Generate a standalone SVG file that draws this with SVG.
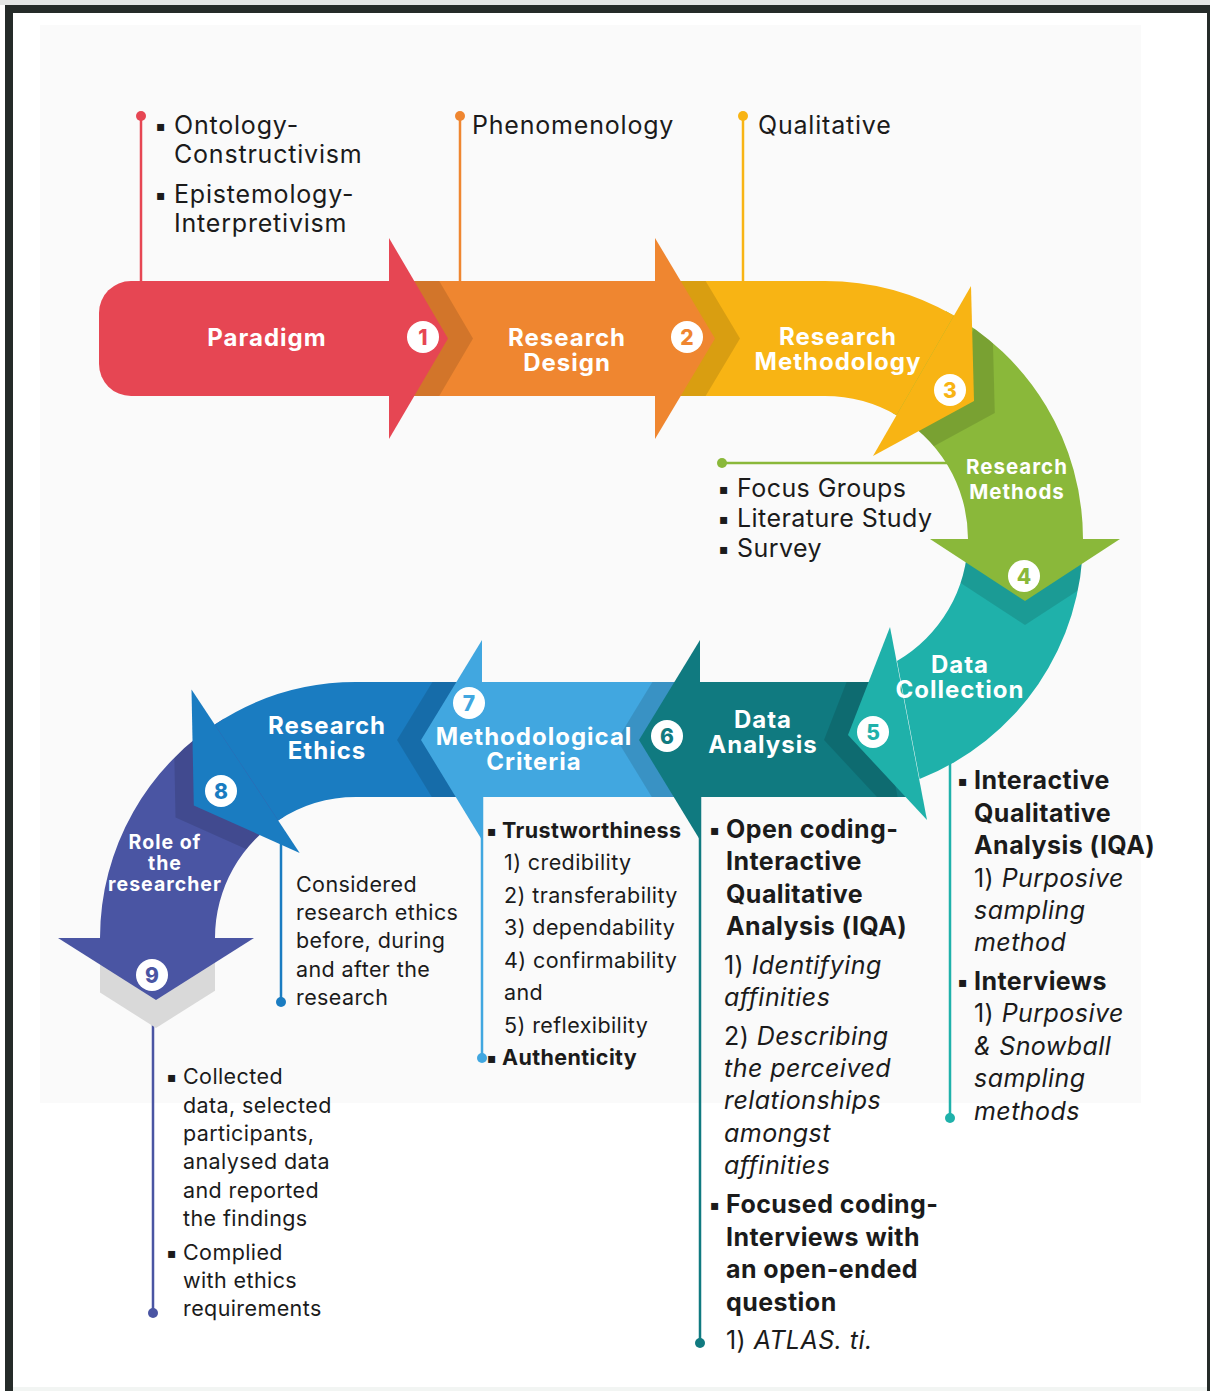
<svg xmlns="http://www.w3.org/2000/svg" xmlns:xlink="http://www.w3.org/1999/xlink" width="1210" height="1391" viewBox="0 0 1210 1391">
  <style>
    .lbl { font-family: Inter, "Open Sans", "DejaVu Sans", sans-serif; font-weight: 700; fill: #ffffff; text-anchor: middle; letter-spacing: 1px; }
    .num { font-family: Inter, "DejaVu Sans", sans-serif; font-weight: 800; font-size: 21px; text-anchor: middle; }
    .txt { font-family: Inter, "Open Sans", "DejaVu Sans", sans-serif; fill: #1b1b1b; }
    .big { font-size: 25px; letter-spacing: 0.45px; }
    .top { font-size: 25px; letter-spacing: 0.8px; }
    .small { font-size: 21.5px; letter-spacing: 0.4px; }
    .b { font-weight: 700; }
    .i { font-style: italic; }
    .bul { font-family: "DejaVu Sans", sans-serif; font-size: 14px; font-weight: 700; letter-spacing: 0; }
    .shade { fill: #000000; opacity: 0.12; }
    .ln { stroke-width: 2.5; fill: none; }
  </style>
  <defs>
    <path id="b1" d="M131,281 H395 V396 H131 A32 32 0 0 1 99,364 V313 A32 32 0 0 1 131,281 Z"/>
    <path id="b2" d="M392,281 H660 V396 H392 Z"/>
    <path id="b3" d="M658,281 H825 A258 258 0 0 1 954,315.6 L896.5,415.2 A143 143 0 0 0 825,396 H658 Z"/>
    <path id="b4" d="M946.1,311.2 A258 258 0 0 1 1083,539 L968,539 A143 143 0 0 0 892.1,412.7 Z"/>
    <path id="b5" d="M1083,539 A258 258 0 0 1 919.6,779 L897,661 A143 143 0 0 0 968,539 Z"/>
    <path id="b6" d="M697,682 H880 L910,797 H697 Z"/>
    <path id="b7" d="M479,682 H703 V797 H479 Z"/>
    <path id="b8" d="M485,682 H356 A256 256 0 0 0 214.7,724.5 L278.2,820.4 A141 141 0 0 1 356,797 H485 Z"/>
    <path id="b9" d="M224.2,718.6 A256 256 0 0 0 100,938 L215,938 A141 141 0 0 1 283.4,817.1 Z"/>
    <clipPath id="c2"><use xlink:href="#b2"/></clipPath>
    <clipPath id="c3"><use xlink:href="#b3"/></clipPath>
    <clipPath id="c4"><use xlink:href="#b4"/></clipPath>
    <clipPath id="c5"><use xlink:href="#b5"/></clipPath>
    <clipPath id="c6"><use xlink:href="#b6"/></clipPath>
    <clipPath id="c7"><use xlink:href="#b7"/></clipPath>
    <clipPath id="c8"><use xlink:href="#b8"/></clipPath>
    <clipPath id="c9"><use xlink:href="#b9"/></clipPath>
    <clipPath id="c10"><rect x="100" y="938" width="115" height="120"/></clipPath>
  </defs>

  <!-- page and frame -->
  <rect x="0" y="0" width="1210" height="1391" fill="#ffffff"/>
  <rect x="40" y="25" width="1101" height="1078" fill="#fafafa"/>
  <rect x="0" y="0" width="1210" height="5" fill="#e4e6e5"/>
  <rect x="5" y="5" width="1205" height="8" fill="#252b29"/>
  <rect x="5" y="5" width="8" height="1386" fill="#252b29"/>
  <rect x="1207" y="5" width="3" height="1386" fill="#252b29"/>
  <rect x="13" y="1387" width="1194" height="4" fill="#f2f5f3"/>

  <!-- connectors -->
  <g id="connectors">
    <line class="ln" x1="141" y1="116" x2="141" y2="282" stroke="#e64653"/>
    <circle cx="141" cy="116" r="5" fill="#e64653"/>
    <line class="ln" x1="460" y1="116" x2="460" y2="282" stroke="#ef8630"/>
    <circle cx="460" cy="116" r="5" fill="#ef8630"/>
    <line class="ln" x1="743" y1="116" x2="743" y2="282" stroke="#f8b414"/>
    <circle cx="743" cy="116" r="5" fill="#f8b414"/>
    <line class="ln" x1="722" y1="463" x2="962" y2="463" stroke="#8ab83a"/>
    <circle cx="722" cy="463" r="5" fill="#8ab83a"/>
    <line class="ln" x1="950" y1="755" x2="950" y2="1118" stroke="#1fb1aa"/>
    <circle cx="950" cy="1118" r="5" fill="#1fb1aa"/>
    <line class="ln" x1="700" y1="797" x2="700" y2="1343" stroke="#107a80"/>
    <circle cx="700" cy="1343" r="5" fill="#107a80"/>
    <line class="ln" x1="482" y1="797" x2="482" y2="1058" stroke="#41a7e0"/>
    <circle cx="482" cy="1058" r="5" fill="#41a7e0"/>
    <line class="ln" x1="281" y1="830" x2="281" y2="1002" stroke="#1a7cc1"/>
    <circle cx="281" cy="1002" r="5" fill="#1a7cc1"/>
    <line class="ln" x1="153" y1="1000" x2="153" y2="1313" stroke="#4a55a3"/>
    <circle cx="153" cy="1313" r="5" fill="#4a55a3"/>
  </g>

  <!-- arrow bodies -->
  <g id="bands">
    <use xlink:href="#b9" fill="#4a55a3"/>
    <use xlink:href="#b8" fill="#1a7cc1"/>
    <use xlink:href="#b7" fill="#41a7e0"/>
    <use xlink:href="#b6" fill="#107a80"/>
    <use xlink:href="#b5" fill="#1fb1aa"/>
    <use xlink:href="#b4" fill="#8ab83a"/>
    <use xlink:href="#b3" fill="#f8b414"/>
    <use xlink:href="#b2" fill="#ef8630"/>
    <use xlink:href="#b1" fill="#e64653"/>
  </g>

  <!-- head shadows cast on the following body -->
  <g id="shadows">
    <polygon class="shade" clip-path="url(#c2)" points="414,238 473,338.5 414,439"/>
    <polygon class="shade" clip-path="url(#c3)" points="680,238 740,338.5 680,439"/>
    <polygon class="shade" clip-path="url(#c4)" points="991.8,298.1 994.8,413 893.8,467.9"/>
    <polygon class="shade" clip-path="url(#c5)" points="930,563 1120,563 1025,625"/>
    <polygon class="shade" clip-path="url(#c6)" points="866,632 903,825 824,740"/>
    <polygon class="shade" clip-path="url(#c7)" points="678,640 678,840 617,740"/>
    <polygon class="shade" clip-path="url(#c8)" points="458,640 458,840 397,740"/>
    <polygon class="shade" clip-path="url(#c9)" points="173.2,701.6 281.4,865 175.5,817.5"/>
    <polygon fill="#d9d9d9" clip-path="url(#c10)" points="58,938 254,938 254,966 156,1028 58,966"/>
  </g>

  <!-- nodes: arrow heads, labels and step numbers -->
  <g id="n1">
    <polygon points="389,238 448,338.5 389,439" fill="#e64653"/>
    <text class="lbl" x="267" y="346" font-size="24">Paradigm</text>
    <circle cx="423" cy="337" r="16" fill="#fff"/>
    <text class="num" x="423" y="344.5" fill="#e64653">1</text>
  </g>
  <g id="n2">
    <polygon points="655,238 715,338.5 655,439" fill="#ef8630"/>
    <text class="lbl" font-size="24"><tspan x="567" y="346">Research</tspan><tspan x="567" dy="25">Design</tspan></text>
    <circle cx="687" cy="337" r="16" fill="#fff"/>
    <text class="num" x="687" y="344.5" fill="#ef8630">2</text>
  </g>
  <g id="n3">
    <polygon points="971,286.1 974,401 873,455.9" fill="#f8b414"/>
    <text class="lbl" font-size="24"><tspan x="838" y="345">Research</tspan><tspan x="838" dy="25">Methodology</tspan></text>
    <circle cx="950" cy="390" r="16" fill="#fff"/>
    <text class="num" x="950" y="397.5" fill="#f8b414">3</text>
  </g>
  <g id="n4">
    <polygon points="930,539 1120,539 1025,601" fill="#8ab83a"/>
    <text class="lbl" font-size="20.5" letter-spacing="0.6"><tspan x="1017" y="474">Research</tspan><tspan x="1017" dy="25">Methods</tspan></text>
    <circle cx="1024" cy="576" r="16" fill="#fff"/>
    <text class="num" x="1024" y="583.5" fill="#8ab83a">4</text>
  </g>
  <g id="n5">
    <polygon points="890,627 927,820 848,735" fill="#1fb1aa"/>
    <text class="lbl" font-size="24"><tspan x="960" y="673">Data</tspan><tspan x="960" dy="25">Collection</tspan></text>
    <circle cx="873" cy="732" r="16" fill="#fff"/>
    <text class="num" x="873" y="739.5" fill="#1fb1aa">5</text>
  </g>
  <g id="n6">
    <polygon points="700,640 700,840 639,740" fill="#107a80"/>
    <text class="lbl" font-size="24"><tspan x="763" y="728">Data</tspan><tspan x="763" dy="25">Analysis</tspan></text>
    <circle cx="667" cy="736" r="16" fill="#fff"/>
    <text class="num" x="667" y="743.5" fill="#107a80">6</text>
  </g>
  <g id="n7">
    <polygon points="482,640 482,840 421,740" fill="#41a7e0"/>
    <text class="lbl" font-size="24"><tspan x="534" y="745">Methodological</tspan><tspan x="534" dy="25">Criteria</tspan></text>
    <circle cx="469" cy="703" r="16" fill="#fff"/>
    <text class="num" x="469" y="710.5" fill="#41a7e0">7</text>
  </g>
  <g id="n8">
    <polygon points="191.5,689.5 299.7,852.9 193.8,805.4" fill="#1a7cc1"/>
    <text class="lbl" font-size="24"><tspan x="327" y="734">Research</tspan><tspan x="327" dy="25">Ethics</tspan></text>
    <circle cx="221" cy="791" r="16" fill="#fff"/>
    <text class="num" x="221" y="798.5" fill="#1a7cc1">8</text>
  </g>
  <g id="n9">
    <polygon points="58,938 254,938 156,1000" fill="#4a55a3"/>
    <text class="lbl" font-size="19.5" letter-spacing="0.6"><tspan x="165" y="849">Role of</tspan><tspan x="165" dy="21">the</tspan><tspan x="165" dy="21">researcher</tspan></text>
    <circle cx="152" cy="975" r="16" fill="#fff"/>
    <text class="num" x="152" y="982.5" fill="#4a55a3">9</text>
  </g>

  <!-- notes -->
  <g id="notes-paradigm" class="txt top">
    <text class="bul" x="156" y="131">▪</text>
    <text x="174" y="134">Ontology-</text>
    <text x="174" y="163">Constructivism</text>
    <text class="bul" x="156" y="200">▪</text>
    <text x="174" y="203">Epistemology-</text>
    <text x="174" y="232">Interpretivism</text>
  </g>
  <g id="notes-design" class="txt top">
    <text x="472" y="134">Phenomenology</text>
  </g>
  <g id="notes-methodology" class="txt top">
    <text x="758" y="134">Qualitative</text>
  </g>
  <g id="notes-methods" class="txt big">
    <text class="bul" x="719" y="494">▪</text>
    <text x="737" y="497">Focus Groups</text>
    <text class="bul" x="719" y="524">▪</text>
    <text x="737" y="527">Literature Study</text>
    <text class="bul" x="719" y="554">▪</text>
    <text x="737" y="557">Survey</text>
  </g>
  <g id="notes-collection" class="txt big">
    <text class="bul" x="958" y="786">▪</text>
    <text class="b" x="974" y="789">Interactive</text>
    <text class="b" x="974" y="822">Qualitative</text>
    <text class="b" x="974" y="854">Analysis (IQA)</text>
    <text x="974" y="887">1) <tspan class="i">Purposive</tspan></text>
    <text class="i" x="974" y="919">sampling</text>
    <text class="i" x="974" y="951">method</text>
    <text class="bul" x="958" y="987">▪</text>
    <text class="b" x="974" y="990">Interviews</text>
    <text x="974" y="1022">1) <tspan class="i">Purposive</tspan></text>
    <text class="i" x="974" y="1055">&amp; Snowball</text>
    <text class="i" x="974" y="1087">sampling</text>
    <text class="i" x="974" y="1120">methods</text>
  </g>
  <g id="notes-analysis" class="txt big">
    <text class="bul" x="710" y="835">▪</text>
    <text class="b" x="726" y="838">Open coding-</text>
    <text class="b" x="726" y="870">Interactive</text>
    <text class="b" x="726" y="903">Qualitative</text>
    <text class="b" x="726" y="935">Analysis (IQA)</text>
    <text x="724" y="974">1) <tspan class="i">Identifying</tspan></text>
    <text class="i" x="724" y="1006">affinities</text>
    <text x="724" y="1045">2) <tspan class="i">Describing</tspan></text>
    <text class="i" x="724" y="1077">the perceived</text>
    <text class="i" x="724" y="1109">relationships</text>
    <text class="i" x="724" y="1142">amongst</text>
    <text class="i" x="724" y="1174">affinities</text>
    <text class="bul" x="710" y="1210">▪</text>
    <text class="b" x="726" y="1213">Focused coding-</text>
    <text class="b" x="726" y="1246">Interviews with</text>
    <text class="b" x="726" y="1278">an open-ended</text>
    <text class="b" x="726" y="1311">question</text>
    <text x="726" y="1349">1) <tspan class="i">ATLAS. ti.</tspan></text>
  </g>
  <g id="notes-criteria" class="txt small">
    <text class="bul" x="487" y="836">▪</text>
    <text class="b" x="502" y="838">Trustworthiness</text>
    <text x="504" y="870">1) credibility</text>
    <text x="504" y="903">2) transferability</text>
    <text x="504" y="935">3) dependability</text>
    <text x="504" y="968">4) confirmability</text>
    <text x="504" y="1000">and</text>
    <text x="504" y="1033">5) reflexibility</text>
    <text class="bul" x="487" y="1063">▪</text>
    <text class="b" x="502" y="1065">Authenticity</text>
  </g>
  <g id="notes-ethics" class="txt small">
    <text x="296" y="892">Considered</text>
    <text x="296" y="920">research ethics</text>
    <text x="296" y="948">before, during</text>
    <text x="296" y="977">and after the</text>
    <text x="296" y="1005">research</text>
  </g>
  <g id="notes-role" class="txt small">
    <text class="bul" x="167" y="1082">▪</text>
    <text x="183" y="1084">Collected</text>
    <text x="183" y="1113">data, selected</text>
    <text x="183" y="1141">participants,</text>
    <text x="183" y="1169">analysed data</text>
    <text x="183" y="1198">and reported</text>
    <text x="183" y="1226">the findings</text>
    <text class="bul" x="167" y="1258">▪</text>
    <text x="183" y="1260">Complied</text>
    <text x="183" y="1288">with ethics</text>
    <text x="183" y="1316">requirements</text>
  </g>
</svg>
